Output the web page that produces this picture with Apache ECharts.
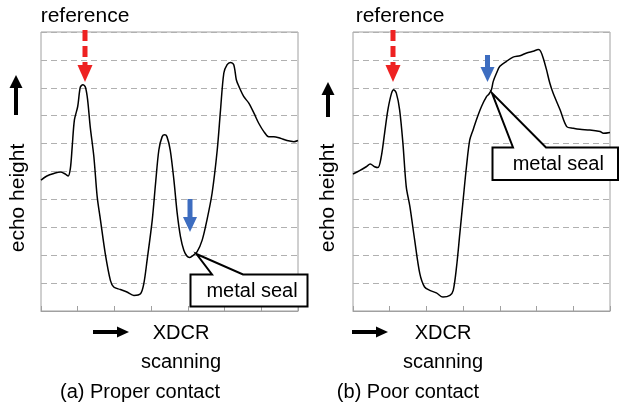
<!DOCTYPE html>
<html><head><meta charset="utf-8">
<script src="https://cdn.jsdelivr.net/npm/echarts@6/dist/echarts.min.js"></script>
<style>html,body{margin:0;padding:0;background:#fff}#c{width:619px;height:414px}</style>
</head><body><div id="c"></div>
<script>
// ---- data (x = scan position, y = echo height, arbitrary units) ----
const properX = [0,0.16,0.35,0.53,0.66,0.74,0.80,0.85,0.91,1.00,1.07,1.14,1.21,1.27,1.34,1.44,1.53,1.62,1.75,1.89,1.98,2.16,2.34,2.53,2.71,2.80,2.89,3.03,3.12,3.21,3.30,3.37,3.43,3.52,3.62,3.71,3.80,3.89,3.98,4.04,4.11,4.25,4.39,4.52,4.66,4.80,4.89,4.98,5.07,5.16,5.25,5.32,5.39,5.52,5.66,5.80,5.93,6.07,6.20,6.34,6.52,6.70,6.89,7.00];
const properY = [4.69,4.84,4.93,4.98,4.91,4.84,5.11,5.89,6.85,7.33,8.02,8.11,8.02,7.57,6.61,5.53,4.10,3.26,2.06,1.10,0.86,0.77,0.68,0.56,0.62,0.98,1.82,3.26,4.57,5.77,6.25,6.32,6.25,5.77,4.69,3.50,2.66,2.18,1.96,1.92,1.96,2.12,2.54,3.26,4.22,5.77,7.21,8.53,8.83,8.91,8.83,8.29,8.05,7.69,7.45,7.09,6.73,6.43,6.25,6.25,6.19,6.11,6.07,6.11];
const poorX = [0,0.18,0.36,0.47,0.59,0.68,0.77,0.86,0.95,1.05,1.11,1.18,1.27,1.36,1.45,1.55,1.68,1.82,1.95,2.09,2.27,2.45,2.64,2.73,2.82,2.91,3.00,3.09,3.18,3.27,3.36,3.50,3.64,3.70,3.77,3.82,3.91,4.00,4.18,4.36,4.55,4.73,4.91,5.05,5.11,5.18,5.27,5.36,5.45,5.64,5.82,6.00,6.18,6.45,6.73,6.82,7.00];
const poorY = [4.91,5.03,5.17,5.27,5.17,5.14,5.53,6.37,7.21,7.81,7.93,7.81,7.21,6.01,4.46,3.74,2.54,1.34,0.86,0.74,0.65,0.50,0.56,0.74,1.58,2.78,3.98,5.17,6.13,6.49,6.85,7.33,7.69,7.77,7.93,8.23,8.53,8.77,8.95,9.10,9.15,9.25,9.31,9.37,9.31,9.07,8.65,8.17,7.81,7.21,6.61,6.55,6.51,6.49,6.43,6.37,6.40];
const xTicks = [0,1,2,3,4,5,6,7];
const yTicks = [0,1,2,3,4,5,6,7,8,9,10];
const panelTitles = ['(a) Proper contact','(b) Poor contact'];
const yLabel = 'echo height';
const xLabel1 = 'XDCR', xLabel2 = 'scanning';
const refLabel = 'reference', sealLabel = 'metal seal';

const zip = (a,b)=>a.map((v,i)=>[v,b[i]]);
const FONT = '"Liberation Sans", Arial, sans-serif';
const chart = echarts.init(document.getElementById('c'), null, {renderer:'canvas'});

const grids = [
  {left:41, top:32, width:257, height:279, show:true, borderColor:'#a0a0a0', borderWidth:1},
  {left:353, top:32, width:257, height:279, show:true, borderColor:'#a0a0a0', borderWidth:1}
];
const mkX = i => ({type:'value', gridIndex:i, min:xTicks[0], max:xTicks[xTicks.length-1], interval:1,
  axisLine:{show:true, lineStyle:{color:'#a0a0a0', width:1}},
  axisTick:{show:true, inside:true, length:5, lineStyle:{color:'#a0a0a0'}},
  axisLabel:{show:false}, splitLine:{show:false}});
const mkY = i => ({type:'value', gridIndex:i, min:yTicks[0], max:yTicks[yTicks.length-1], interval:1,
  axisLine:{show:false}, axisTick:{show:false}, axisLabel:{show:false},
  splitLine:{show:true, lineStyle:{color:'#b0b0b0', type:[6,4], width:1}}});

function txt(t, x, y, size, extra){
  return Object.assign({type:'text', z:100, style:{text:t, x:x, y:y, font: size+'px '+FONT, fill:'#000', align:'center', verticalAlign:'middle'}}, extra||{});
}
function upArrow(cx, top, bottom){
  return [
    {type:'rect', z:100, shape:{x:cx-2, y:top+12, width:4, height:bottom-top-12}, style:{fill:'#000'}},
    {type:'polygon', z:100, shape:{points:[[cx-6.5,top+13],[cx,top],[cx+6.5,top+13]]}, style:{fill:'#000'}}
  ];
}
function rightArrow(left, right, cy){
  return [
    {type:'rect', z:100, shape:{x:left, y:cy-2, width:right-left-11, height:4}, style:{fill:'#000'}},
    {type:'polygon', z:100, shape:{points:[[right-12,cy-5.5],[right,cy],[right-12,cy+5.5]]}, style:{fill:'#000'}}
  ];
}
function redArrow(cx, top, tip){
  return [
    {type:'line', z:100, shape:{x1:cx, y1:top, x2:cx, y2:tip-15}, style:{stroke:'#ee2222', lineWidth:5, lineDash:[11,5]}},
    {type:'polygon', z:100, shape:{points:[[cx-7.5,tip-17],[cx+7.5,tip-17],[cx,tip]]}, style:{fill:'#ee2222'}}
  ];
}
function blueArrow(cx, top, tip){
  return [
    {type:'rect', z:100, shape:{x:cx-2.5, y:top, width:5, height:tip-top-14}, style:{fill:'#3d6dc0'}},
    {type:'polygon', z:100, shape:{points:[[cx-7,tip-15],[cx+7,tip-15],[cx,tip]]}, style:{fill:'#3d6dc0'}}
  ];
}
function callout(tip, bx1, by1, bx2, by2, p1, p2, label){
  return [
    {type:'polygon', z:110, shape:{points:[[bx1,by1],[p1,by1],tip,[p2,by1],[bx2,by1],[bx2,by2],[bx1,by2]]},
      style:{fill:'#fff', stroke:'#000', lineWidth:2, lineJoin:'miter'}},
    txt(label, (bx1+bx2)/2 + 3, (by1+by2)/2 + 1, 20, {z:120})
  ];
}

const graphics = [].concat(
  txt(refLabel, 85, 16, 21), txt(refLabel, 400, 16, 21),
  redArrow(85, 30, 82), redArrow(393, 30, 82),
  blueArrow(190, 199, 232), blueArrow(487.5, 55, 82),
  upArrow(16, 75, 115), upArrow(328, 82, 117),
  txt(yLabel, 18, 198, 21, {rotation:Math.PI/2, originX:18, originY:198}),
  txt(yLabel, 328.5, 198, 21, {rotation:Math.PI/2, originX:328.5, originY:198}),
  rightArrow(93, 129, 332), rightArrow(352, 388, 332),
  txt(xLabel1, 181, 333, 20), txt(xLabel2, 181, 362, 20),
  txt(xLabel1, 443, 333, 20), txt(xLabel2, 443, 362, 20),
  txt(panelTitles[0], 140, 392, 20), txt(panelTitles[1], 408, 392, 20),
  callout([196.5,254], 190.5, 274.5, 307.5, 306.5, 212, 243, sealLabel),
  callout([492,93], 492.5, 147.5, 618, 180, 513, 546, sealLabel)
);

chart.setOption({
  animation:false,
  backgroundColor:'#fff',
  grid:grids,
  xAxis:[mkX(0), mkX(1)],
  yAxis:[mkY(0), mkY(1)],
  series:[
    {type:'line', xAxisIndex:0, yAxisIndex:0, data:zip(properX, properY), showSymbol:false, smooth:0.3,
      lineStyle:{color:'#000', width:1.5}},
    {type:'line', xAxisIndex:1, yAxisIndex:1, data:zip(poorX, poorY), showSymbol:false, smooth:0.3,
      lineStyle:{color:'#000', width:1.5}}
  ],
  graphic:graphics
});
</script></body></html>
